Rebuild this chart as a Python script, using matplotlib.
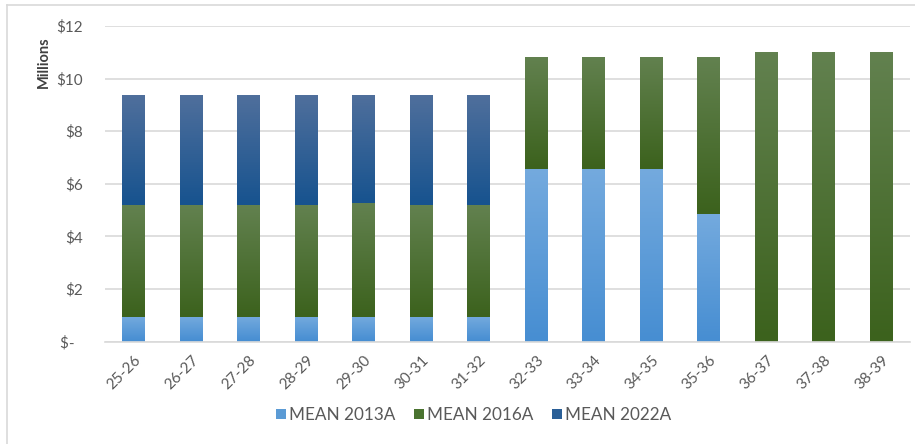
import matplotlib
matplotlib.use('Agg')
from matplotlib import pyplot as plt
from matplotlib.colors import LinearSegmentedColormap
from matplotlib.lines import Line2D
import numpy as np

plt.rcParams['font.family'] = ['Lato', 'DejaVu Sans']

periods = ['25-26', '26-27', '27-28', '28-29', '29-30', '30-31', '31-32',
           '32-33', '33-34', '34-35', '35-36', '36-37', '37-38', '38-39']
mean_2013a = [0.95, 0.95, 0.95, 0.95, 0.95, 0.95, 0.95,
              6.55, 6.55, 6.55, 4.86, 0, 0, 0]
mean_2016a = [4.25, 4.25, 4.25, 4.25, 4.31, 4.25, 4.25,
              4.26, 4.26, 4.26, 5.95, 11.01, 11.01, 11.01]
mean_2022a = [4.18, 4.18, 4.18, 4.18, 4.12, 4.18, 4.18,
              0, 0, 0, 0, 0, 0, 0]
series_names = ['MEAN 2013A', 'MEAN 2016A', 'MEAN 2022A']
yticks = [0, 2, 4, 6, 8, 10, 12]
ytick_labels = ['$-  ', '$2', '$4', '$6', '$8', '$10', '$12']

# (top colour, bottom colour, legend colour) - excel style gradient per segment
styles = [('#74aade', '#478ed2', '#5b9bd5'),
          ('#62814f', '#3c621d', '#4a7330'),
          ('#4f6f9c', '#17538f', '#2a5f97')]

fig = plt.figure(figsize=(9.15, 4.44), dpi=100)
ax = fig.add_axes([105 / 915, 1 - 341.5 / 444, 805 / 915, 315.5 / 444])

x = np.arange(len(periods))
bottom = np.zeros(len(periods))
grad = np.linspace(1, 0, 64).reshape(-1, 1)
for vals, (top_c, bot_c, leg_c) in zip([mean_2013a, mean_2016a, mean_2022a], styles):
    vals = np.array(vals)
    bars = ax.bar(x, vals, 0.4, bottom=bottom, color=leg_c, linewidth=0, zorder=2)
    cmap = LinearSegmentedColormap.from_list('g', [bot_c, top_c])
    for b in bars:
        h = b.get_height()
        if h <= 0:
            continue
        bx, by = b.get_x(), b.get_y()
        im = ax.imshow(grad, cmap=cmap, aspect='auto', zorder=3,
                       extent=[bx, bx + b.get_width(), by, by + h],
                       vmin=0, vmax=1, interpolation='bilinear')
        im.set_clip_path(b)
    bottom += vals

ax.set_xlim(-0.5, len(periods) - 0.5)
ax.set_ylim(0, 12)
ax.set_yticks(yticks)
ax.set_yticklabels(ytick_labels)
ax.set_xticks(x)
ax.set_xticklabels(periods, rotation=45, ha='right', rotation_mode='anchor')
ax.tick_params(length=0, labelsize=11, colors='#595959')
ax.tick_params(axis='y', pad=16)
ax.tick_params(axis='x', pad=8)
ax.grid(axis='y', color='#d9d9d9', linewidth=1.2, zorder=0)
ax.set_axisbelow(True)
for s in ['top', 'right', 'left']:
    ax.spines[s].set_visible(False)
ax.spines['bottom'].set_color('#d9d9d9')
ax.spines['bottom'].set_linewidth(1.2)

fig.text(44 / 915, 1 - 62 / 444, 'Millions', rotation=90, ha='center', va='center',
         fontsize=10.5, fontweight='bold', color='#404040')

handles = [Line2D([], [], marker='s', linestyle='', markersize=7,
                  markerfacecolor=s[2], markeredgewidth=0) for s in styles]
fig.legend(handles, series_names, loc='center', bbox_to_anchor=(473 / 915, 1 - 415 / 444),
           ncol=3, frameon=False, fontsize=12.3, labelcolor='#595959',
           handletextpad=0.05, columnspacing=1.0, handlelength=0.8)

# chart border (only left and top visible in the source)
fig.add_artist(Line2D([7 / 915, 7 / 915], [0, 1 - 5 / 444], transform=fig.transFigure,
                      color='#d9d9d9', linewidth=1.2))
fig.add_artist(Line2D([7 / 915, 1], [1 - 5 / 444, 1 - 5 / 444], transform=fig.transFigure,
                      color='#d9d9d9', linewidth=1.2))

fig.savefig('out.png', dpi=100)
